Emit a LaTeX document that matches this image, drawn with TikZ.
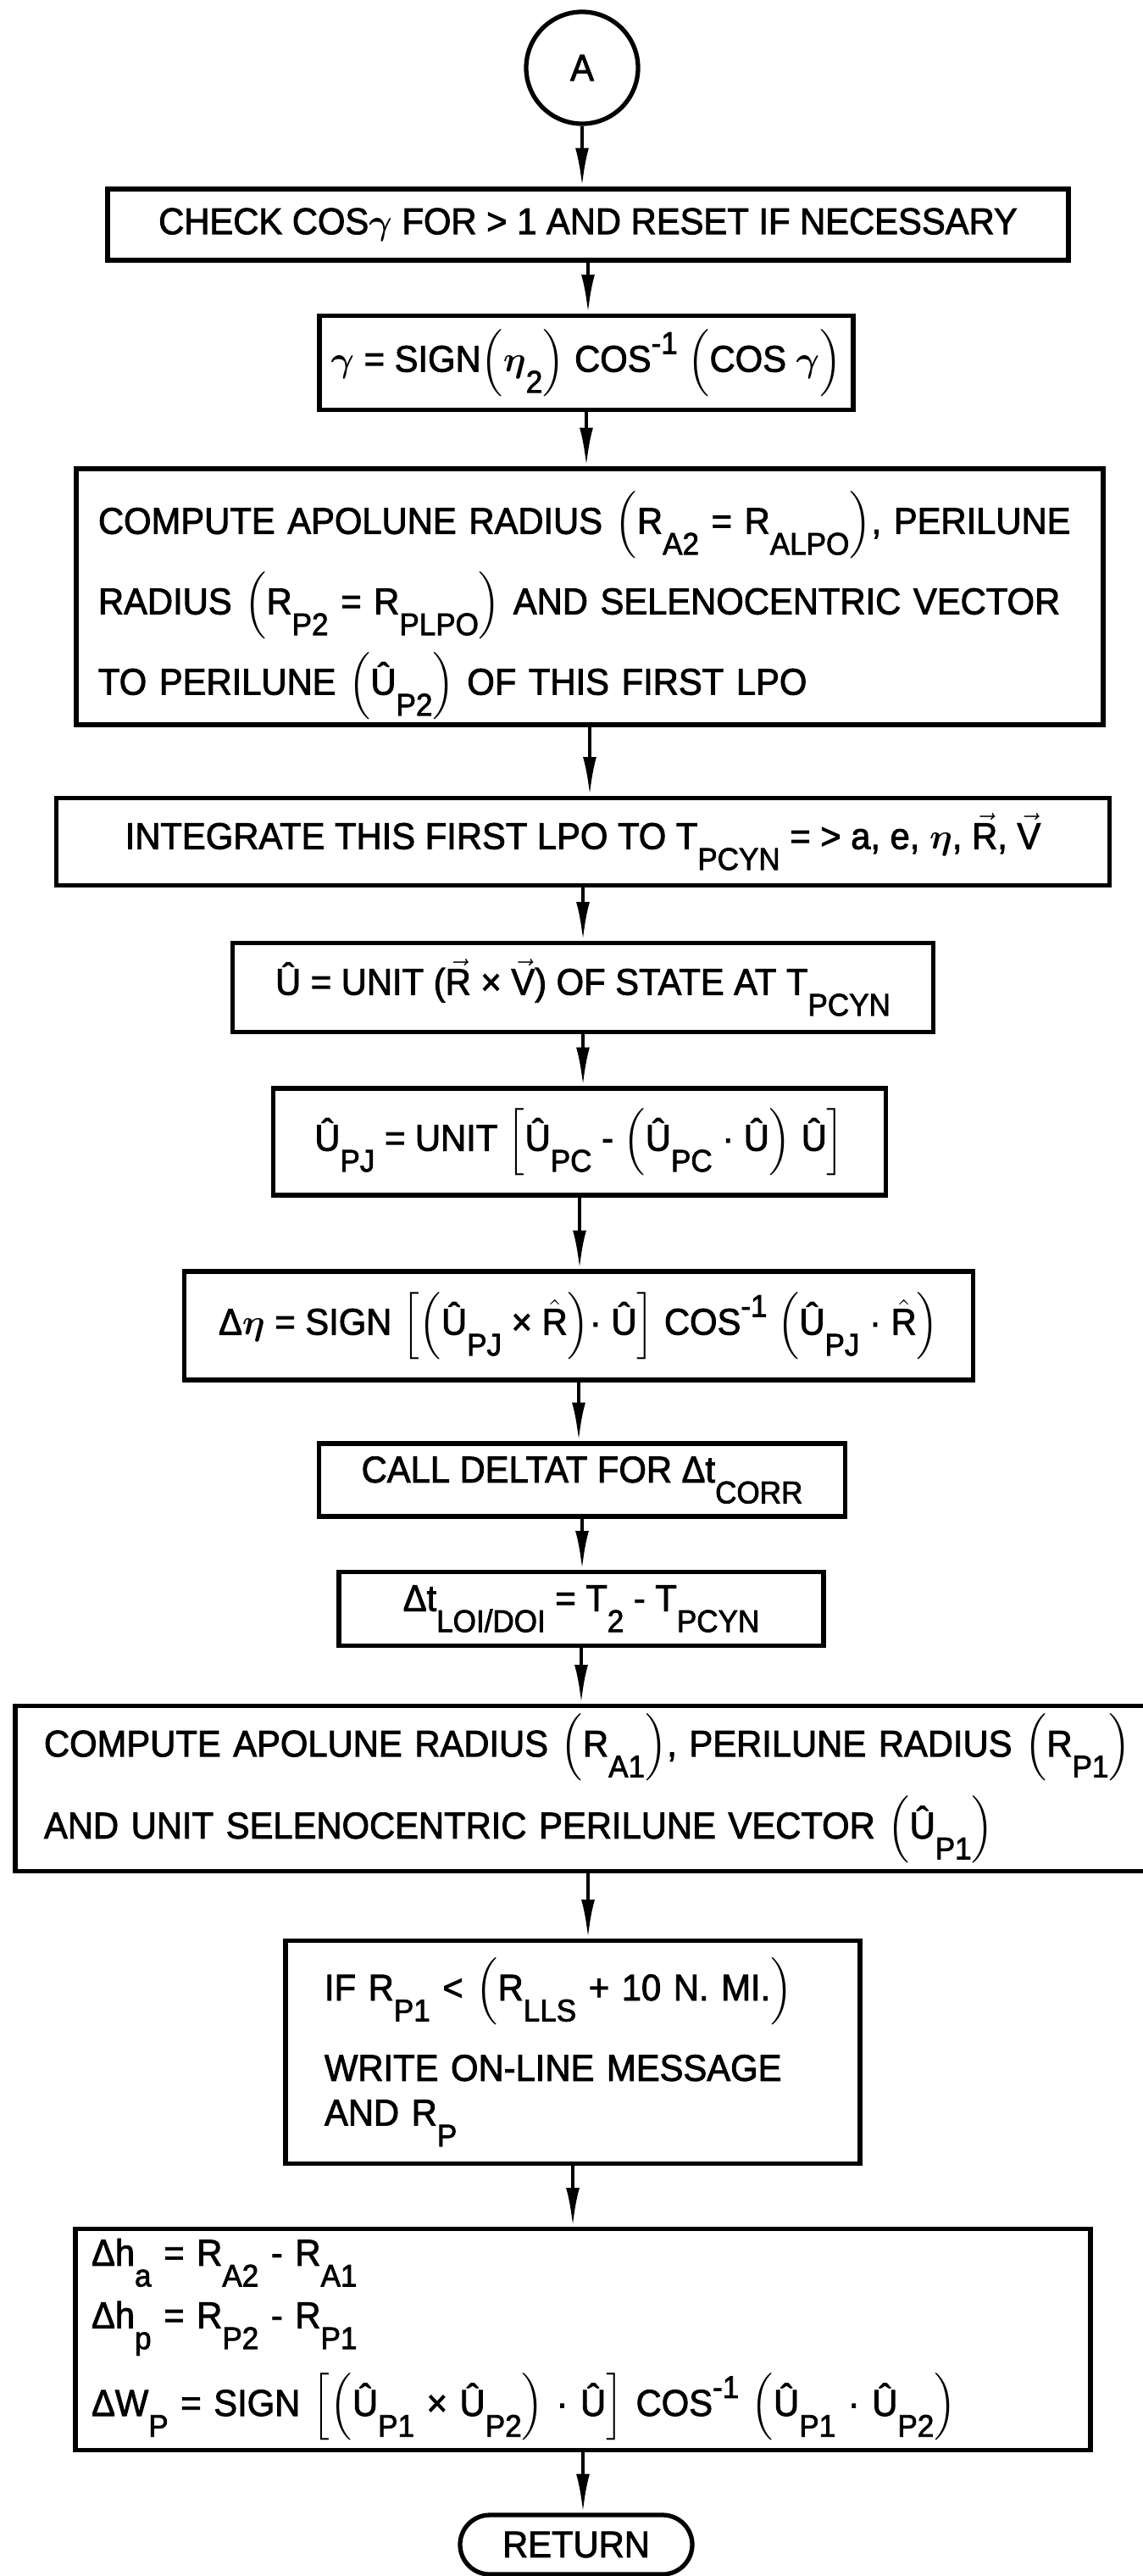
\documentclass[tikz,border=0pt]{standalone}
\usepackage{fontspec}
\setmainfont{Liberation Sans}[FakeStretch=0.95, FakeBold=2]
\usepackage{amsmath,amssymb}
\usepackage{tikz}
\usetikzlibrary{
  arrows.meta,%
  positioning
}
\tikzset{>={Latex[length=13pt,width=4.5pt]}}
\tikzset{font=\fontsize{12.5}{15}\selectfont}
\tikzset{procbox/.style={draw, rectangle, line width=1.5pt, inner sep=0pt, align=center},
  flow/.style={->, line width=1.2pt}}
% lowered and raised indices, tall brackets
\newcommand{\sbs}[1]{\raisebox{-7pt}{\fontsize{10.5}{10.5}\selectfont #1}}
\newcommand{\sps}[1]{\raisebox{6pt}{\fontsize{10.5}{10.5}\selectfont #1}}
\newcommand{\grp}[3]{\ensuremath{\left#1\mbox{#2}\right#3}}
\newcommand{\vc}[1]{\ensuremath{\vec{\mbox{#1}}}}
\newcommand{\hatR}{\ensuremath{\hat{\mbox{R}}}}
\newcommand{\gam}{\ensuremath{\boldsymbol{\gamma}}}
\newcommand{\et}{\ensuremath{\boldsymbol{\eta}}}

\begin{document}
\begin{tikzpicture}
  \useasboundingbox (0,0) rectangle (13.49,-30.39);
  \node[circle, draw, line width=1.5pt, minimum size=1.32cm, inner sep=0pt] (A) at (6.87,-0.80) {A};
  \node[procbox, minimum width=11.34cm, minimum height=0.84cm] (b1) at (6.94,-2.65)
    {CHECK COS\gam{} FOR > 1 AND RESET IF NECESSARY};
  \node[procbox, minimum width=6.30cm, minimum height=1.11cm] (b2) at (6.92,-4.28)
    {\gam{} = SIGN\grp({\et\sbs{2}}) COS\sps{-1} \grp({COS \gam\vphantom{\sbs{2}}})};
  \node[procbox, text width=11.60cm, inner xsep=0.26cm, minimum height=3.02cm, align=left,
    font=\fontsize{12.5}{27}\selectfont] (b3) at (6.96,-7.04)
    {\mbox{\rule{0pt}{20pt}COMPUTE APOLUNE RADIUS \grp({R\sbs{A2} = R\sbs{ALPO}}), PERILUNE}\\
     \mbox{RADIUS \grp({R\sbs{P2} = R\sbs{PLPO}}) AND SELENOCENTRIC VECTOR}\\
     \mbox{TO PERILUNE \grp({Û\sbs{P2}}) OF THIS FIRST LPO}};
  \node[procbox, minimum width=12.43cm, minimum height=1.03cm] (b4) at (6.88,-9.93)
    {INTEGRATE THIS FIRST LPO TO T\sbs{PCYN} = > a, e, \et, \vc{R}, \vc{V}};
  \node[procbox, minimum width=8.27cm, minimum height=1.05cm] (b5) at (6.88,-11.65)
    {Û = UNIT (\vc{R} × \vc{V}) OF STATE AT T\sbs{PCYN}};
  \node[procbox, minimum width=7.23cm, minimum height=1.26cm] (b6) at (6.84,-13.47)
    {Û\sbs{PJ} = UNIT \grp[{Û\sbs{PC} - \grp({Û\sbs{PC} · Û}) Û}]};
  \node[procbox, minimum width=9.31cm, minimum height=1.28cm] (b7) at (6.83,-15.64)
    {Δ\et{} = SIGN \grp[{\grp({Û\sbs{PJ} × \hatR})· Û}] COS\sps{-1} \grp({Û\sbs{PJ} · \hatR})};
  \node[procbox, minimum width=6.21cm, minimum height=0.86cm] (b8) at (6.87,-17.46)
    {CALL DELTAT FOR Δt\sbs{CORR}};
  \node[procbox, minimum width=5.72cm, minimum height=0.87cm] (b9) at (6.86,-18.98)
    {Δt\sbs{LOI/DOI} = T\sbs{2} - T\sbs{PCYN}};
  \node[procbox, text width=12.84cm, inner xsep=0.34cm, minimum height=1.95cm, align=left,
    font=\fontsize{12.5}{27.5}\selectfont] (b10) at (6.94,-21.10)
    {\mbox{COMPUTE APOLUNE RADIUS \grp({R\sbs{A1}}), PERILUNE RADIUS \grp({R\sbs{P1}})}\\
     \mbox{AND UNIT SELENOCENTRIC PERILUNE VECTOR \grp({Û\sbs{P1}})}};
  \node[procbox, text width=5.86cm, inner xsep=0.46cm, minimum height=2.63cm, align=left,
    font=\fontsize{12.5}{15}\selectfont] (b11) at (6.76,-24.21)
    {\mbox{IF R\sbs{P1} < \grp({R\sbs{LLS} + 10 N. MI.})}\\[9pt]
     \mbox{WRITE ON-LINE MESSAGE}\\
     \mbox{AND R\sbs{P}}};
  \node[procbox, text width=11.60cm, inner xsep=0.19cm, minimum height=2.61cm, align=left,
    font=\fontsize{12.5}{21}\selectfont] (b12) at (6.88,-27.60)
    {\mbox{Δh\sbs{a} = R\sbs{A2} - R\sbs{A1}}\\
     \mbox{Δh\sbs{p} = R\sbs{P2} - R\sbs{P1}}\\[5pt]
     \mbox{ΔW\sbs{P} = SIGN \grp[{\grp({Û\sbs{P1} × Û\sbs{P2}}) · Û}] COS\sps{-1} \grp({Û\sbs{P1} · Û\sbs{P2}})}};
  \node[procbox, rounded corners=0.35cm, minimum width=2.74cm, minimum height=0.70cm] (ret) at (6.80,-30.02)
    {RETURN};
  \foreach \a/\b in {A/b1,b1/b2,b2/b3,b3/b4,b4/b5,b5/b6,b6/b7,b7/b8,b8/b9,b9/b10,b10/b11,b11/b12,b12/ret}
    \draw[flow] (\a) -- (\a |- \b.north);
\end{tikzpicture}
\end{document}
